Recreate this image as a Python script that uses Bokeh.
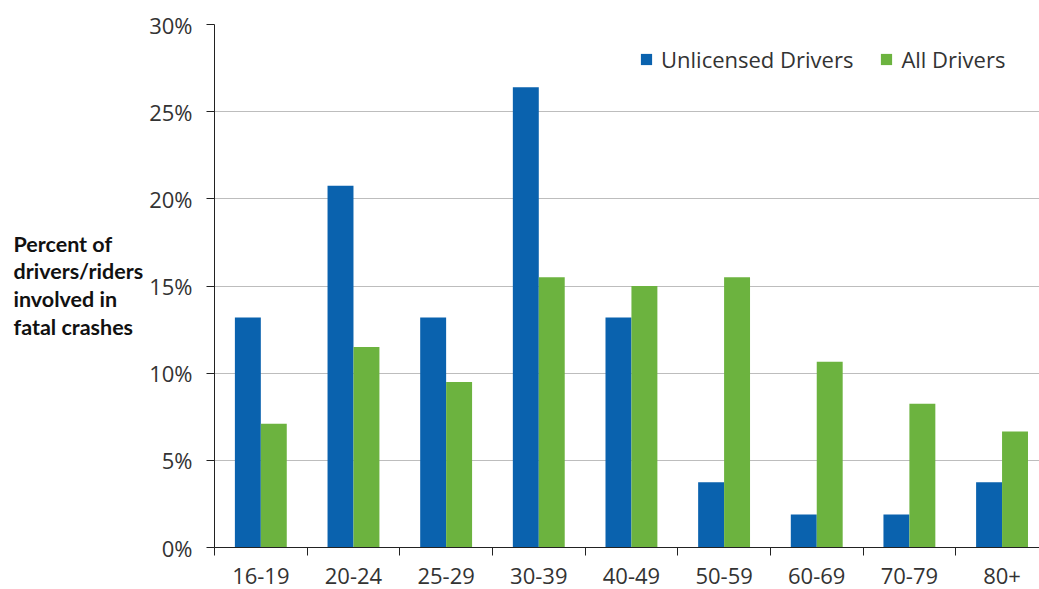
import numpy as np
from bokeh.plotting import figure
from bokeh.layouts import row
from bokeh.models import (ColumnDataSource, Range1d, FixedTicker, PrintfTickFormatter,
                          Legend, LegendItem, Label)
from bokeh.transform import dodge
from bokeh.embed import file_html
from bokeh.resources import INLINE

# ---- data ----
age_groups = ["16-19", "20-24", "25-29", "30-39", "40-49", "50-59", "60-69", "70-79", "80+"]
unlicensed = [13.2, 20.75, 13.2, 26.4, 13.2, 3.75, 1.9, 1.9, 3.75]
all_drivers = [7.1, 11.5, 9.5, 15.5, 15.0, 15.5, 10.65, 8.25, 6.65]
y_ticks = [0, 5, 10, 15, 20, 25, 30]
y_title = "Percent of\ndrivers/riders\ninvolved in\nfatal crashes"

BLUE = "#0a62ae"
GREEN = "#6cb33f"
FONT = "Open Sans"
LEFT_W = 146

centers = [i + 0.5 for i in range(len(age_groups))]
src = ColumnDataSource(dict(x=centers, cat=age_groups, unl=unlicensed, alld=all_drivers))

# left panel holding the horizontal y-axis title
lp = figure(width=LEFT_W, height=589, min_border=0, x_range=Range1d(0, 1), y_range=Range1d(0, 1),
            output_backend="svg", toolbar_location=None, tools="")
lp.axis.visible = False
lp.grid.visible = False
lp.outline_line_color = None
lp.add_layout(Label(x=13, y=317, x_units="screen", y_units="screen", text=y_title,
                    text_baseline="top", text_align="left",
                    text_font="Lato", text_font_style="bold", text_font_size="21.5px",
                    text_line_height=1.07, text_color="#111111"))

p = figure(frame_width=826, frame_height=523,
           min_border_left=213 - LEFT_W, min_border_right=0, min_border_top=24, min_border_bottom=42,
           x_range=Range1d(0, 8.915), y_range=Range1d(0, 30),
           output_backend="svg", toolbar_location=None, tools="")

r1 = p.vbar(x=dodge("x", -0.14, range=p.x_range), top="unl", width=0.28, source=src,
            fill_color=BLUE, line_color=None)
r2 = p.vbar(x=dodge("x", 0.14, range=p.x_range), top="alld", width=0.28, source=src,
            fill_color=GREEN, line_color=None)

p.outline_line_color = None
p.background_fill_color = "white"
p.border_fill_color = "white"

# y axis
p.yaxis.ticker = FixedTicker(ticks=y_ticks)
p.yaxis.formatter = PrintfTickFormatter(format="%d%%")
p.yaxis.major_tick_out = 8
p.yaxis.major_tick_in = 0
p.yaxis.minor_tick_line_color = None
p.yaxis.major_label_standoff = 14
p.yaxis.major_label_text_font = FONT
p.yaxis.major_label_text_font_size = "22px"
p.yaxis.major_label_text_color = "#333333"
p.yaxis.axis_line_color = "#222222"
p.yaxis.major_tick_line_color = "#222222"

# x axis: labels at centers, tick marks at category boundaries
p.xaxis.ticker = FixedTicker(ticks=centers, minor_ticks=list(range(len(age_groups) + 1)))
p.xaxis.major_label_overrides = {c: lab for c, lab in zip(centers, age_groups)}
p.xaxis.major_tick_out = 0
p.xaxis.major_tick_in = 0
p.xaxis.minor_tick_out = 8
p.xaxis.minor_tick_in = 0
p.xaxis.minor_tick_line_color = "#222222"
p.xaxis.axis_line_color = "#222222"
p.xaxis.major_label_standoff = 12
p.xaxis.major_label_text_font = FONT
p.xaxis.major_label_text_font_size = "22px"
p.xaxis.major_label_text_color = "#333333"

p.xgrid.grid_line_color = None
p.ygrid.grid_line_color = "#bdbdbd"
p.ygrid.grid_line_width = 1

legend = Legend(items=[LegendItem(label="Unlicensed Drivers", renderers=[r1]),
                       LegendItem(label="All Drivers", renderers=[r2])],
                orientation="horizontal", location=(425, 473),
                border_line_color=None, background_fill_alpha=0,
                glyph_width=14, glyph_height=14, label_standoff=8, spacing=26,
                padding=0, margin=0,
                label_text_font=FONT, label_text_font_size="22px", label_text_color="#333333")
p.add_layout(legend)

layout = row(lp, p, spacing=0)
open("out.html", "w").write(file_html(layout, INLINE))
